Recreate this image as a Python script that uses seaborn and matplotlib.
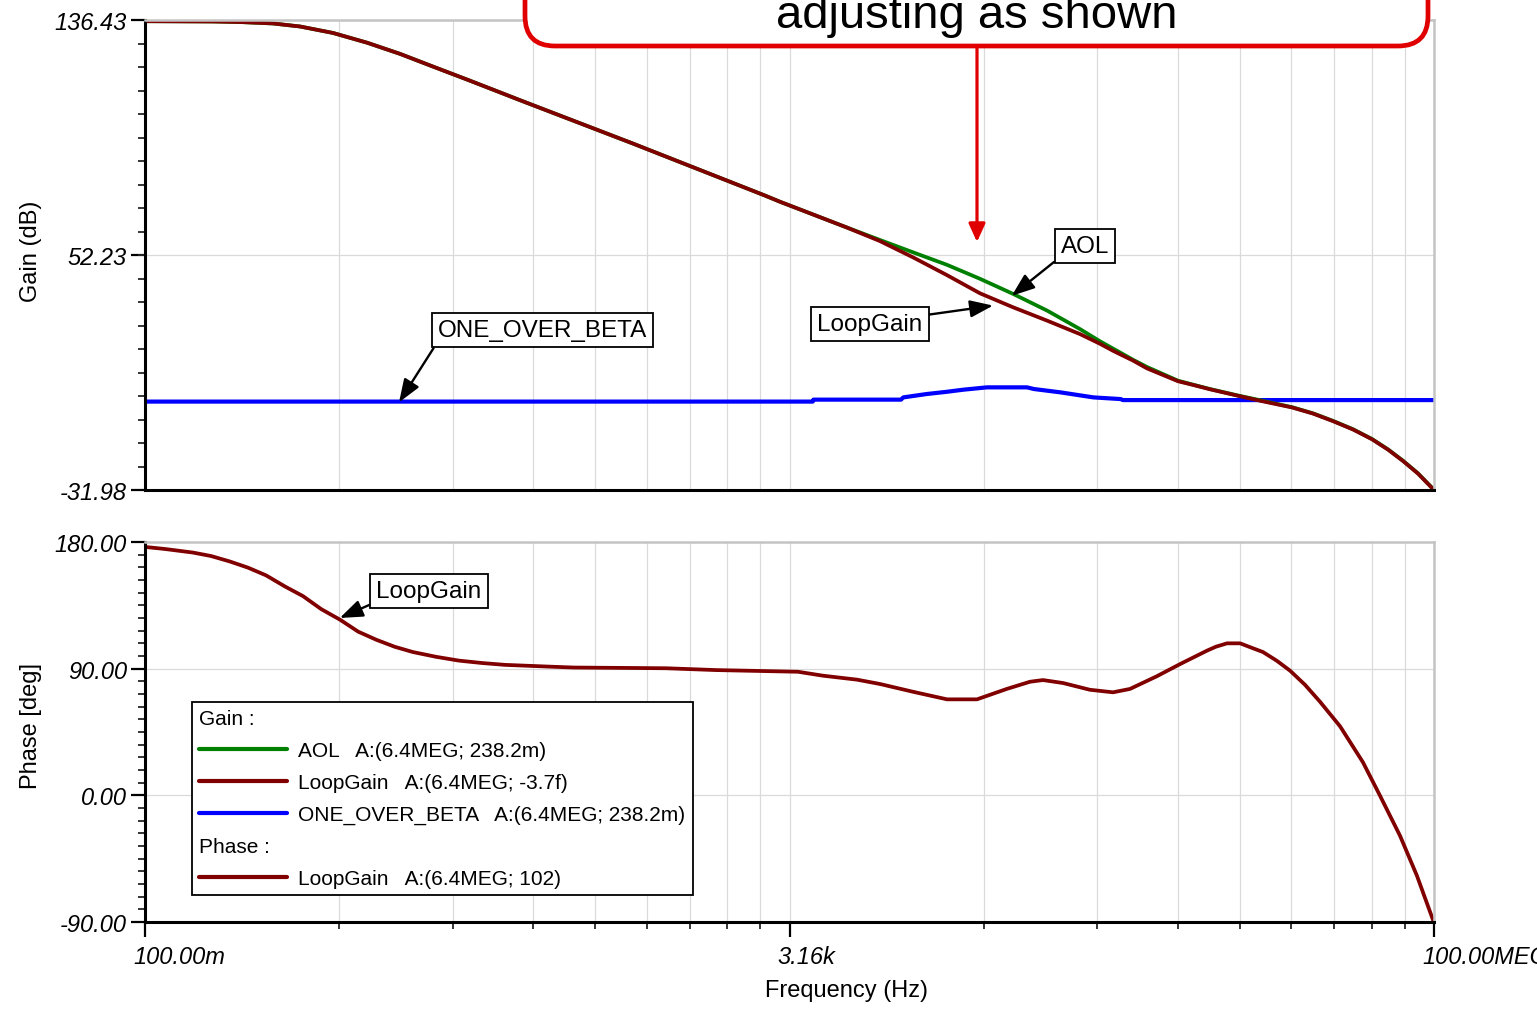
import numpy as np
import pandas as pd
import seaborn as sns
import matplotlib
matplotlib.use("Agg")
import matplotlib.pyplot as plt
from matplotlib.lines import Line2D
from matplotlib.ticker import FixedLocator, NullFormatter, FixedFormatter
from matplotlib.patches import FancyBboxPatch, FancyArrowPatch
from matplotlib.transforms import IdentityTransform, ScaledTranslation

# ---------------- data ----------------
aol_freq = [0.1, 0.3, 0.46, 0.78, 1.21, 2.05, 3.55, 6.03, 10.3, 17.7, 30.1, 41.5,
            251, 2115, 2716, 7930, 13550, 23000, 39800, 67600, 115000, 199000,
            337000, 466000, 574000, 791000, 991000, 1.63e6, 2.14e6, 2.73e6, 4.35e6,
            6.10e6, 1.02e7, 1.43e7, 1.97e7, 2.72e7, 3.69e7, 4.77e7, 6.08e7, 7.73e7, 1e8]
aol_db = [136.0, 135.9, 135.7, 135.2, 134.1, 131.8, 128.3, 124.3, 119.7, 115.1, 110.5, 107.7,
          92.3, 73.6, 71.3, 62.1, 57.6, 53.2, 48.7, 43.7, 38.3, 32.3,
          25.7, 21.3, 18.7, 14.7, 12.1, 7.2, 5.6, 4.2, 1.8,
          0.2, -2.3, -4.5, -7.2, -10.2, -13.7, -17.4, -21.5, -26.0, -31.9]

lg_freq = [0.1, 0.3, 0.46, 0.78, 1.21, 2.05, 3.55, 6.03, 10.3, 17.7, 30.1, 41.5,
           251, 2115, 2716, 7930, 13550, 23000, 39800, 67600, 115000, 199000,
           337000, 466000, 574000, 791000, 991000, 1.63e6, 2.14e6, 2.73e6, 4.35e6,
           6.10e6, 1.02e7, 1.43e7, 1.97e7, 2.72e7, 3.69e7, 4.77e7, 6.08e7, 7.73e7, 1e8]
lg_db = [136.0, 135.9, 135.7, 135.2, 134.1, 131.8, 128.3, 124.3, 119.7, 115.1, 110.5, 107.7,
         92.3, 73.6, 71.3, 62.1, 57.2, 51.4, 45.0, 38.5, 33.5, 28.7,
         23.9, 20.4, 17.9, 14.4, 11.6, 7.0, 5.5, 4.1, 1.7,
         0.0, -2.4, -4.6, -7.3, -10.3, -13.8, -17.5, -21.6, -26.1, -32.0]

ob_freq = [0.1, 4600, 4640, 19000, 19700, 28600, 39500, 51700, 75600, 144000,
           161000, 247000, 419000, 650000, 672000, 1e8]
ob_db = [-0.3, -0.3, 0.4, 0.4, 1.2, 2.4, 3.2, 3.96, 4.8, 4.8,
         4.2, 3.0, 1.2, 0.6, 0.24, 0.24]

ph_freq = [0.1, 0.1386, 0.216, 0.290, 0.39, 0.523, 0.70, 0.945, 1.27, 1.70, 2.30, 3.08,
           4.13, 5.56, 7.43, 10.8, 15.6, 22.6, 32.6, 68.4, 98.9, 434, 970, 3625,
           5420, 9355, 13550, 23000, 39800, 64400, 104000, 151000, 186000, 257000,
           396000, 574000, 754000, 1.16e6, 1.69e6, 2.60e6, 3.0e6, 3.59e6, 4.43e6, 5.19e6,
           6.40e6, 8.02e6, 9.88e6, 1.258e7, 1.60e7, 2.21e7, 3.19e7, 4.20e7, 5.79e7, 7.60e7, 1e8]
ph_deg = [176.5, 175.0, 172.5, 170.0, 166.2, 161.8, 156.3, 148.5, 141.5, 132.3, 124.8, 116.3,
          110.5, 105.5, 101.8, 98.4, 95.7, 94.0, 92.7, 91.4, 90.8, 90.3, 89.0, 87.8,
          85.0, 82.2, 79.1, 73.6, 68.2, 68.2, 75.6, 80.7, 81.9, 79.8,
          75.0, 73.2, 75.6, 84.6, 93.3, 102.8, 105.6, 108.0, 108.0, 105.3,
          101.8, 95.5, 88.6, 78.5, 66.5, 49.0, 23.5, -0.3, -28.7, -57.1, -90.5]

series_names = ["AOL", "LoopGain", "ONE_OVER_BETA"]
readouts_gain = ["A:(6.4MEG; 238.2m)", "A:(6.4MEG; -3.7f)", "A:(6.4MEG; 238.2m)"]
readout_phase = "A:(6.4MEG; 102)"
colors = {"AOL": "#008000", "LoopGain": "#800000", "ONE_OVER_BETA": "#0000ff"}

x_major = [0.1, 3162.28, 1e8]
x_major_labels = ["100.00m", "3.16k", "100.00MEG"]
gain_ticks = [136.43, 52.23, -31.98]
phase_ticks = [180.0, 90.0, 0.0, -90.0]

# annotation label positions (text centre, arrow tip) in data coords
gain_callouts = [
    ("AOL", (365600, 55.6), (112600, 37.6), (0.0, 0.0)),
    ("LoopGain", (11540, 27.4), (83400, 34.1), (1.0, 0.9)),
    ("ONE_OVER_BETA", (59.6, 25.2), (5.94, -0.56), (0.0, 0.0)),
]
phase_callouts = [("LoopGain", (9.60, 145.3), (2.29, 126.0), (0.0, 0.0))]

# ---------------- style ----------------
sns.set_theme(style="white")
plt.rcParams["font.family"] = ["Liberation Sans", "DejaVu Sans"]
plt.rcParams["axes.unicode_minus"] = False
plt.rcParams["text.color"] = "black"

W, H = 1537, 1012
fig = plt.figure(figsize=(W / 100, H / 100), dpi=100)
fig.patch.set_facecolor("white")
L = 145
ax1 = fig.add_axes([L / W, 1 - 491 / H, 1289 / W, 470 / H])
ax2 = fig.add_axes([L / W, 1 - 923 / H, 1289 / W, 380 / H])

x_minor = [0.1 * k ** 4.5 for k in range(2, 10)] + [3162.28 * k ** 4.5 for k in range(2, 10)]

for ax in (ax1, ax2):
    ax.set_facecolor("white")
    ax.set_xscale("log")
    ax.set_xlim(0.1, 1e8)
    ax.xaxis.set_major_locator(FixedLocator(x_major))
    ax.xaxis.set_minor_locator(FixedLocator(x_minor))
    ax.xaxis.set_minor_formatter(NullFormatter())
    for s in ("left", "bottom"):
        ax.spines[s].set_color("black")
        ax.spines[s].set_linewidth(2.2)
    for s in ("top", "right"):
        ax.spines[s].set_color("#c4c4c4")
        ax.spines[s].set_linewidth(1.8)
    ax.grid(which="major", axis="both", color="#dadada", lw=0.9)
    ax.grid(which="minor", axis="x", color="#dadada", lw=0.9)
    ax.set_axisbelow(True)
    ax.tick_params(axis="y", which="major", direction="out", length=10, width=1.6,
                   pad=3, labelsize=17, left=True, colors="black")
    ax.tick_params(axis="y", which="minor", direction="out", length=5, width=1.3, left=True)

# ---------------- gain ----------------
sns.lineplot(x=ob_freq, y=ob_db, ax=ax1, color=colors["ONE_OVER_BETA"], lw=3.0, legend=False)
sns.lineplot(x=aol_freq, y=aol_db, ax=ax1, color=colors["AOL"], lw=2.7, legend=False)
sns.lineplot(x=lg_freq, y=lg_db, ax=ax1, color=colors["LoopGain"], lw=2.7, legend=False)
h_ob, h_aol, h_lg = ax1.lines[0], ax1.lines[1], ax1.lines[2]

ax1.set_ylim(-31.98, 136.43)
ax1.yaxis.set_major_locator(FixedLocator(gain_ticks))
ax1.yaxis.set_major_formatter(FixedFormatter([f"{v:.2f}" for v in gain_ticks]))
ax1.yaxis.set_minor_locator(FixedLocator(np.linspace(-31.98, 136.43, 21)))
ax1.tick_params(axis="x", which="both", length=0, labelbottom=False)
ax1.set_ylabel("Gain (dB)", fontsize=17, color="black")
ax1.yaxis.set_label_coords(-0.080, 0.511)

# ---------------- phase ----------------
sns.lineplot(x=ph_freq, y=ph_deg, ax=ax2, color=colors["LoopGain"], lw=2.7, legend=False)
h_ph = ax2.lines[0]
ax2.set_ylim(-90, 180)
ax2.yaxis.set_major_locator(FixedLocator(phase_ticks))
ax2.yaxis.set_major_formatter(FixedFormatter([f"{v:.2f}" for v in phase_ticks]))
ax2.yaxis.set_minor_locator(FixedLocator(np.arange(-90, 181, 9)))
ax2.tick_params(axis="x", which="major", direction="out", length=10.8, width=1.6,
                pad=6, labelsize=17, bottom=True, colors="black")
ax2.tick_params(axis="x", which="minor", direction="out", length=5, width=1.3, bottom=True)
ax2.xaxis.set_major_formatter(FixedFormatter(x_major_labels))
ax2.set_ylabel("Phase [deg]", fontsize=17, color="black")
ax2.yaxis.set_label_coords(-0.080, 0.518)
ax2.set_xlabel("Frequency (Hz)", fontsize=17, color="black")
ax2.xaxis.set_label_coords(0.544, -0.150)

for ax in (ax1, ax2):
    for lab in ax.get_yticklabels():
        lab.set_fontstyle("italic")
shift = ScaledTranslation(-12 / 100, 0, fig.dpi_scale_trans)
for lab in ax2.get_xticklabels():
    lab.set_fontstyle("italic")
    lab.set_horizontalalignment("left")
    lab.set_transform(lab.get_transform() + shift)

# ---------------- callouts ----------------
def callout(ax, text, xytext, xy, relpos):
    ax.annotate(text, xy=xy, xytext=xytext, xycoords="data", textcoords="data",
                ha="center", va="center", fontsize=17.5, color="black", zorder=6,
                bbox=dict(boxstyle="square,pad=0.25", fc="white", ec="black", lw=1.3),
                arrowprops=dict(arrowstyle="-|>,head_length=0.8,head_width=0.3",
                                color="black", lw=1.7, shrinkA=0, shrinkB=0,
                                relpos=relpos))

for t, xt, xy, rp in gain_callouts:
    callout(ax1, t, xt, xy, rp)
for t, xt, xy, rp in phase_callouts:
    callout(ax2, t, xt, xy, rp)

# ---------------- legend ----------------
blank1 = Line2D([], [], color="none")
blank2 = Line2D([], [], color="none")
leg_handles = [blank1, h_aol, h_lg, h_ob, blank2, h_ph]
leg_labels = ["Gain :"] + [f"{n}   {r}" for n, r in zip(series_names, readouts_gain)] + \
             ["Phase :", f"LoopGain   {readout_phase}"]
leg = ax2.legend(leg_handles, leg_labels, loc="upper left",
                 bbox_to_anchor=(47 / 1289, (923 - 703) / 380), borderaxespad=0,
                 frameon=True, fancybox=False, edgecolor="black", framealpha=1,
                 fontsize=15, handlelength=4.2, handletextpad=0.55,
                 labelspacing=0.62, borderpad=0.35)
leg.get_frame().set_linewidth(1.3)
for line in leg.get_lines():
    line.set_linewidth(3.0)
for t in leg.get_texts():
    t.set_color("black")
try:
    rows = leg._legend_handle_box.get_children()[0].get_children()
    for i in (0, 4):
        rows[i].get_children()[0].width = 0
        rows[i].sep = 0
except Exception:
    pass

# ---------------- red note box on top ----------------
red = "#e00000"
box = FancyBboxPatch((525, H - 47), 903, 200, boxstyle="round,pad=0,rounding_size=30",
                     transform=IdentityTransform(), fc="white", ec=red, lw=3.4, zorder=20)
fig.add_artist(box)
fig.text(977 / W, 1 - 28 / H, "adjusting as shown", ha="center", va="baseline",
         fontsize=34, color="black", zorder=21)
arr = FancyArrowPatch((977, H - 49), (977, H - 243),
                      arrowstyle="-|>,head_length=1.1,head_width=0.5", mutation_scale=10,
                      color=red, lw=2.3, shrinkA=0, shrinkB=0,
                      transform=IdentityTransform(), zorder=20)
fig.add_artist(arr)

fig.savefig("out.png", dpi=100, facecolor="white")
